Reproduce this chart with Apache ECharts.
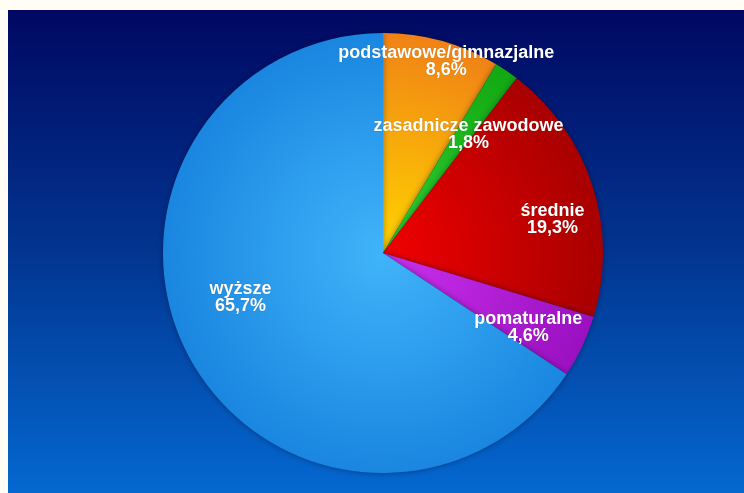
<!DOCTYPE html>
<html><head><meta charset="utf-8">
<script src="https://cdn.jsdelivr.net/npm/echarts@6/dist/echarts.min.js"></script>
<style>html,body{margin:0;padding:0;background:#fffdf5}#c{width:744px;height:493px}</style>
</head><body><div id="c"></div>
<script>
const categories = ['podstawowe/gimnazjalne', 'zasadnicze zawodowe', 'średnie', 'pomaturalne', 'wyższe'];
const values = [8.6, 1.8, 19.3, 4.6, 65.7];
const valueLabels = ['8,6%', '1,8%', '19,3%', '4,6%', '65,7%'];

const cx = 383, cy = 253, R = 220;
function rad(inner, outer) {
  return {type: 'radial', x: cx, y: cy, r: R, global: true,
    colorStops: [{offset: 0, color: inner}, {offset: 1, color: outer}]};
}
const colors = [
  rad('#ffd400', '#f08215'),
  rad('#2fd02f', '#12a812'),
  rad('#f20000', '#a80000'),
  rad('#cc30ee', '#9a10c0'),
  rad('#40b4fa', '#1a86e0')
];
const offsets = [[33, -83], [22, -25], [62, 1], [43, 26], [-43, -9]];

const chart = echarts.init(document.getElementById('c'));
chart.setOption({
  backgroundColor: '#fffdf5',
  animation: false,
  graphic: [{
    type: 'rect', z: -10, silent: true,
    shape: {x: 8, y: 10, width: 736, height: 483},
    style: {fill: {type: 'linear', x: 0, y: 0, x2: 0, y2: 1,
      colorStops: [{offset: 0, color: '#000862'}, {offset: 0.5, color: '#023590'}, {offset: 1, color: '#0468d0'}]}}
  }],
  series: [{
    type: 'pie',
    center: [cx, cy],
    radius: [0, R],
    startAngle: 90,
    clockwise: true,
    avoidLabelOverlap: false,
    labelLine: {show: false},
    itemStyle: {shadowBlur: 6, shadowColor: 'rgba(0,0,30,0.4)'},
    data: categories.map((n, i) => ({
      name: n, value: values[i],
      itemStyle: {color: colors[i]},
      label: {offset: offsets[i]}
    })),
    label: {
      show: true, position: 'inside',
      formatter: p => p.name + '\n' + valueLabels[p.dataIndex],
      color: '#ffffff', fontFamily: 'Liberation Sans, Arial, sans-serif',
      fontWeight: 'bold', fontSize: 18, lineHeight: 17, align: 'center',
      textShadowColor: 'rgba(0,0,0,0.3)', textShadowBlur: 1
    }
  }]
});
</script></body></html>
